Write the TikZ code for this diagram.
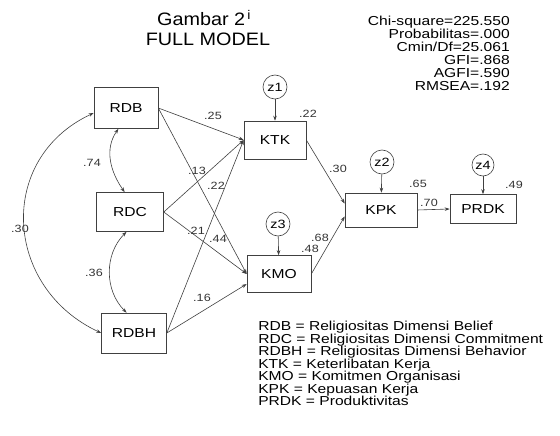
\documentclass[tikz,border=0pt]{standalone}
\usepackage{fontspec}
\setmainfont{Liberation Sans}[FakeStretch=1.2]
\newfontfamily\titlefont{Liberation Sans}[FakeStretch=1.1]
\usetikzlibrary{arrows.meta}
\begin{document}
\begin{tikzpicture}[x=1pt,y=-1pt,
    line width=0.6pt, draw=black!75,
    >={Stealth[length=5pt,width=3.5pt]},
    var/.style={draw, rectangle, inner sep=0pt, font=\fontsize{13}{13}\selectfont},
    err/.style={draw, circle, inner sep=0pt, minimum size=24pt, font=\fontsize{12}{12}\selectfont},
    wt/.style={inner sep=0pt, font=\fontsize{10.5}{10.5}\selectfont, text=black!80}]
  \useasboundingbox (0,0) rectangle (560,436);
  \draw
    (126,108) node[var, minimum width=64pt, minimum height=41pt] (RDB){RDB}
    (130,212) node[var, minimum width=67pt, minimum height=39pt] (RDC){RDC}
    (134,333) node[var, minimum width=65pt, minimum height=40pt] (RDBH){RDBH}
    (275,140) node[var, minimum width=62pt, minimum height=38pt] (KTK){KTK}
    (279,274) node[var, minimum width=64pt, minimum height=37pt] (KMO){KMO}
    (381,210) node[var, minimum width=72pt, minimum height=34pt] (KPK){KPK}
    (483,209) node[var, minimum width=66pt, minimum height=29pt] (PRDK){PRDK}
    (275,87) node[err] (z1){z1}
    (278,224) node[err] (z3){z3}
    (382,162) node[err] (z2){z2}
    (483,165) node[err, minimum size=22pt] (z4){z4};
  % regression paths
  \begin{scope}[->]
    \draw (RDB.east) to (KTK.west);
    \draw (RDB.east) to (KMO.west);
    \draw (RDC.east) to (KTK.west);
    \draw (RDC.east) to (KMO.west);
    \draw (RDBH.east) to (KTK.west);
    \draw (RDBH.east) to ([yshift=-10pt]KMO.west);
    \draw (KTK.east) to (KPK.170);
    \draw (KMO.east) to (KPK.190);
    \draw (KPK.east) to (PRDK.west);
    \draw (z1) to (KTK);
    \draw (z2) to (KPK);
    \draw (z3) to (KMO);
    \draw (z4) to (PRDK);
  \end{scope}
  % correlations
  \begin{scope}[<->]
    \draw (RDB.250) to[out=235, in=125] (RDC.105);
    \draw (RDC.260) to[out=225, in=135] (RDBH.110);
    \draw ([yshift=-5pt]RDB.west) to[out=205, in=155, looseness=1.25] (RDBH.west);
  \end{scope}
  % estimates
  \draw
    (213,116) node[wt] (w1){.25}
    (197,171) node[wt] (w2){.13}
    (216,186) node[wt] (w3){.22}
    (196,231) node[wt] (w4){.21}
    (218,239) node[wt] (w5){.44}
    (202,298) node[wt] (w6){.16}
    (92,163) node[wt] (w7){.74}
    (94,273) node[wt] (w8){.36}
    (20,229) node[wt] (w9){.30}
    (338,169) node[wt] (w10){.30}
    (320,238) node[wt] (w11){.68}
    (429,203) node[wt] (w12){.70}
    (308,114) node[wt] (r1){.22}
    (310,249) node[wt] (r2){.48}
    (418,184) node[wt] (r3){.65}
    (514,185) node[wt] (r4){.49};
  % title, fit and legend
  \node[inner sep=0pt, font=\titlefont\fontsize{18}{18}\selectfont] (title) at (204,18) {Gambar 2\textsuperscript{\,i}};
  \node[inner sep=0pt, font=\titlefont\fontsize{18}{18}\selectfont] (model) at (208,39) {FULL MODEL};
  \node[inner sep=0pt, anchor=north east, align=right, font=\fontsize{13}{13}\selectfont] (fit) at (510,16)
    {Chi-square=225.550\\Probabilitas=.000\\Cmin/Df=25.061\\GFI=.868\\AGFI=.590\\RMSEA=.192};
  \node[inner sep=0pt, anchor=north west, align=left, font=\fontsize{13}{12.5}\selectfont] (legend) at (258,321)
    {RDB = Religiositas Dimensi Belief\\RDC = Religiositas Dimensi Commitment\\RDBH = Religiositas Dimensi Behavior\\KTK = Keterlibatan Kerja\\KMO = Komitmen Organisasi\\KPK = Kepuasan Kerja\\PRDK = Produktivitas};
\end{tikzpicture}
\end{document}
